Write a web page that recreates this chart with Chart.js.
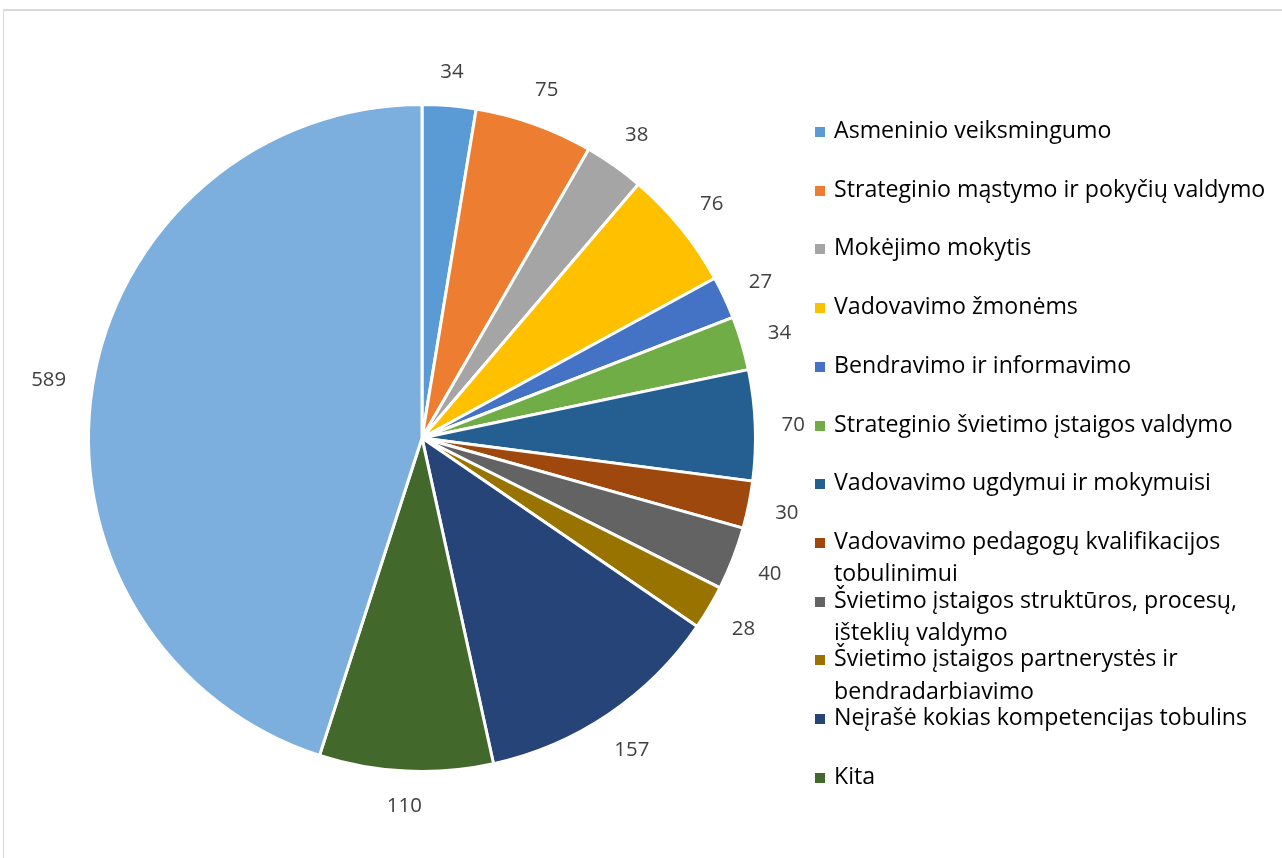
<!DOCTYPE html>
<html>
<head>
<meta charset="utf-8">
<script src="https://cdn.jsdelivr.net/npm/chart.js@4.4.1/dist/chart.umd.min.js"></script>
<style>
  html, body { margin: 0; padding: 0; background: #fff; overflow: hidden; }
  body { width: 1282px; height: 858px; position: relative; font-family: "Open Sans", sans-serif; }
  #frame { position: absolute; left: 3px; top: 9px; width: 1400px; height: 1000px; border-left: 1px solid #d9d9d9; border-top: 2px solid #d9d9d9; }
  #wrap { position: absolute; left: 0; top: 0; width: 844px; height: 858px; }
  #legend { position: absolute; left: 0; top: 0; }
  .li { position: absolute; left: 834px; white-space: nowrap; color: #000; }
  .mk { position: absolute; left: -19px; width: 10px; height: 10px; }
</style>
</head>
<body>
<div id="frame"></div>
<div id="wrap"><canvas id="c"></canvas></div>
<div id="legend"></div>
<script>
const categories = [
  "Asmeninio veiksmingumo",
  "Strateginio mąstymo ir pokyčių valdymo",
  "Mokėjimo mokytis",
  "Vadovavimo žmonėms",
  "Bendravimo ir informavimo",
  "Strateginio švietimo įstaigos valdymo",
  "Vadovavimo ugdymui ir mokymuisi",
  ["Vadovavimo pedagogų kvalifikacijos", "tobulinimui"],
  ["Švietimo įstaigos struktūros, procesų,", "išteklių valdymo"],
  ["Švietimo įstaigos partnerystės ir", "bendradarbiavimo"],
  "Neįrašė kokias kompetencijas tobulins",
  "Kita",
  ""
];
const values = [34, 75, 38, 76, 27, 34, 70, 30, 40, 28, 157, 110, 589];
const colors = ["#5B9BD5", "#ED7D31", "#A5A5A5", "#FFC000", "#4472C4", "#70AD47",
                "#255E91", "#9E480E", "#636363", "#997300", "#264478", "#43682B", "#7CAFDD"];

const mc = document.createElement('canvas').getContext('2d');
function fitSize(text, target, fam) {
  mc.font = '100px ' + fam;
  return 100 * target / mc.measureText(text).width;
}
const FAM = '"Open Sans"';
const legendSize = (fitSize("Asmeninio veiksmingumo", 276, FAM) +
                    fitSize("Strateginio mąstymo ir pokyčių valdymo", 434, FAM)) / 2;
const labelSize = fitSize("589", 35, FAM);

const labelPlugin = {
  id: 'outLabels',
  afterDatasetsDraw(chart) {
    const ctx = chart.ctx;
    const meta = chart.getDatasetMeta(0);
    ctx.save();
    ctx.font = labelSize + 'px ' + FAM;
    ctx.fillStyle = '#404040';
    ctx.textAlign = 'center';
    ctx.textBaseline = 'middle';
    const h = labelSize * 0.72;
    meta.data.forEach((arc, i) => {
      const p = arc.getProps(['x', 'y', 'startAngle', 'endAngle', 'outerRadius'], true);
      const mid = (p.startAngle + p.endAngle) / 2;
      const c = Math.cos(mid), s = Math.sin(mid);
      const txt = String(values[i]);
      const w = ctx.measureText(txt).width;
      const d = p.outerRadius + 26 + Math.abs(c) * w / 2 + Math.abs(s) * h / 2;
      ctx.fillText(txt, p.x + c * d, p.y + s * d + 1);
    });
    ctx.restore();
  }
};

new Chart(document.getElementById('c'), {
  type: 'pie',
  data: {
    labels: categories,
    datasets: [{
      data: values,
      backgroundColor: colors,
      borderColor: '#ffffff',
      borderWidth: 3
    }]
  },
  options: {
    responsive: true,
    maintainAspectRatio: false,
    animation: false,
    layout: { padding: { left: 87, right: 87, top: 103, bottom: 85 } },
    plugins: { legend: { display: false }, tooltip: { enabled: false } }
  },
  plugins: [labelPlugin]
});

const lg = document.getElementById('legend');
const firstBaseline = 138.3, step = 58.7, lineH = 32.5;
let idx = 0;
categories.forEach((lab, i) => {
  if (lab === "") return;
  const lines = Array.isArray(lab) ? lab : [lab];
  const d = document.createElement('div');
  d.className = 'li';
  d.style.fontSize = legendSize + 'px';
  d.style.lineHeight = lineH + 'px';
  const asc = legendSize * 1.069, desc = legendSize * 0.293;
  const baseInBox = (lineH - (asc + desc)) / 2 + asc;
  const top = firstBaseline + idx * step - baseInBox;
  d.style.top = top + 'px';
  const mk = document.createElement('span');
  mk.className = 'mk';
  mk.style.background = colors[i];
  mk.style.top = (baseInBox - legendSize * 0.27 - 5) + 'px';
  d.appendChild(mk);
  lines.forEach((ln, k) => {
    if (k) d.appendChild(document.createElement('br'));
    d.appendChild(document.createTextNode(ln));
  });
  lg.appendChild(d);
  idx++;
});
</script>
</body>
</html>
